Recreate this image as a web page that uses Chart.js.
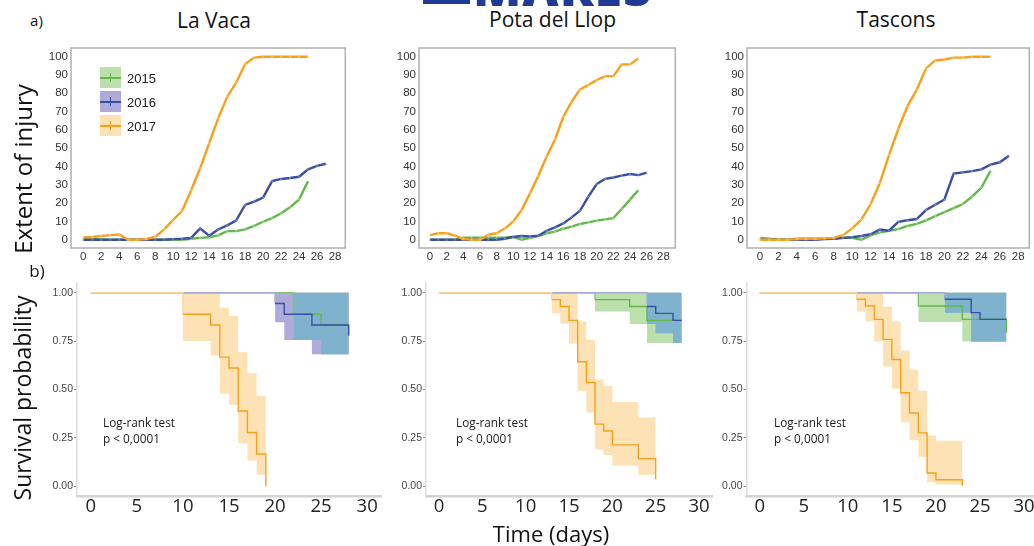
<!DOCTYPE html>
<html><head><meta charset="utf-8">
<script src="https://cdn.jsdelivr.net/npm/chart.js@4.4.1/dist/chart.umd.min.js"></script>
<style>
html,body{margin:0;padding:0;background:#fff;}
body{width:1034px;height:546px;position:relative;overflow:hidden;font-family:"Open Sans",sans-serif;}
canvas{position:absolute;}
.t{position:absolute;white-space:nowrap;line-height:1;color:#111;transform:translate(-50%,-50%);}
.l{position:absolute;white-space:nowrap;line-height:1;color:#1a1a1a;transform:translate(0,-50%);}
.lg{position:absolute;width:21px;height:21px;}
.lg .h{position:absolute;left:0;right:0;top:9.5px;height:2.4px;}
.lg .v{position:absolute;left:9.5px;top:6px;width:1.6px;height:9px;}
#logo{position:absolute;left:423px;top:0;width:240px;height:7px;overflow:hidden;}
</style></head><body>

<div id="logo"><div style="position:absolute;left:0;top:0;width:47px;height:4px;background:#1f3b93"></div><div style="position:absolute;left:50px;top:-38px;font:900 50px 'Open Sans';letter-spacing:1px;color:#1f3b93;line-height:1">MARES</div></div>

<canvas id="c1"></canvas><canvas id="c2"></canvas><canvas id="c3"></canvas>
<canvas id="c4"></canvas><canvas id="c5"></canvas><canvas id="c6"></canvas>

<div id="texts"></div>

<script>
// ---------- tick labels ----------
const injXTicks = [0,2,4,6,8,10,12,14,16,18,20,22,24,26,28];
const injXTickLabels = ['0','2','4','6','8','10','12','14','16','18','20','22','24','26','28'];
const injYTicks = [0,10,20,30,40,50,60,70,80,90,100];
const injYTickLabels = ['0','10','20','30','40','50','60','70','80','90','100'];
const survXTicks = [0,5,10,15,20,25,30];
const survXTickLabels = ['0','5','10','15','20','25','30'];
const survYTicks = [0,0.25,0.5,0.75,1];
const survYTickLabels = ['0.00','0.25','0.50','0.75','1.00'];

// ---------- a) extent of injury ----------
const days0to25 = [0,1,2,3,4,5,6,7,8,9,10,11,12,13,14,15,16,17,18,19,20,21,22,23,24,25];
const days0to26 = [0,1,2,3,4,5,6,7,8,9,10,11,12,13,14,15,16,17,18,19,20,21,22,23,24,25,26];
const days0to27 = [0,1,2,3,4,5,6,7,8,9,10,11,12,13,14,15,16,17,18,19,20,21,22,23,24,25,26,27];

const vaca2015 = [1,1,0,0,0,0,0,0,0,0,0,0,0.5,1,1.3,2.4,4.7,4.7,5.6,7.6,9.8,11.8,14.4,17.7,22,32];
const vaca2016 = [0,0,0,0,0,0,0,0,0,0,0.3,0.5,1,6.2,2.2,5.6,7.8,10.4,19,20.8,23,32,33.2,33.7,34.4,38.4,40.3,41.5];
const vaca2017 = [1.3,1.5,2,2.5,2.9,0,0,0.4,1.5,5.6,10.8,15.8,27,39,52.6,66.3,78,85.8,96,99.5,100,100,100,100,100,100];

const pota2015 = [0,0,0,0,1.1,1.1,1.1,1.1,1.1,1.2,1.6,0,1,2,3.5,4.4,6,7.1,8.6,9.5,10.4,11.1,11.8,16.8,21.9,27.1];
const pota2016 = [0,0,0,0,0,0,0,0,0,0.5,1.5,2,1.8,2.2,4.9,6.7,8.9,12.2,15.8,23.5,30.4,33.2,34,35,35.9,35.3,36.6];
const pota2017 = [2.5,3.5,3.5,2.2,0.4,0,0,2.7,3.5,6.2,10,16.2,25.3,35,45.4,54.8,67.2,75.4,82.1,84.5,87.2,89.4,89.4,95.8,95.8,99];

const tasc2015 = [1,0.5,0,0,0.5,0.5,0.5,0.5,0.5,1,1,0,2.4,4,4.9,5.8,7.5,8.6,10.6,12.9,15.1,17.3,19.5,23.5,28.4,37.7];
const tasc2016 = [0,0,0,0,0,0,0,0.3,0.5,1,1.3,2,3,5.6,4.9,9.7,10.6,11.3,16.2,19.1,22,36.1,36.8,37.5,38.4,41,42.3,45.9];
const tasc2017 = [0,0,0,0,0.3,0.5,0.5,0.8,1,2.5,6.2,11,19.5,31,46.3,60.5,73,82,93.6,98,98.5,99.5,99.5,100,100,100];

// ---------- b) survival (Kaplan-Meier) ----------
// La Vaca
const vacaS2017t = [0,10,13,14,15,16,17,18,19];
const vacaS2017  = [1,0.889,0.833,0.667,0.611,0.389,0.278,0.167,0];
const vacaB2017t = [10,13,14,15,16,17,18,19];
const vacaB2017lo = [0.751,0.675,0.478,0.421,0.222,0.132,0.06,0.06];
const vacaB2017hi = [1,1,0.923,0.88,0.692,0.584,0.467,0.467];
const vacaS2016t = [0,20,21,24,28];
const vacaS2016  = [1,0.944,0.889,0.833,0.778];
const vacaB2016t = [20,21,24,28];
const vacaB2016lo = [0.847,0.756,0.682,0.682];
const vacaB2016hi = [1,1,1,1];
const vacaS2015t = [0,22,25,28];
const vacaS2015  = [1,0.889,0.833,0.833];
const vacaB2015t = [22,25,28];
const vacaB2015lo = [0.756,0.682,0.682];
const vacaB2015hi = [1,1,1];
// Pota del Llop
const potaS2017t = [0,13,14,15,16,17,18,19,20,23,25];
const potaS2017  = [1,0.964,0.929,0.857,0.643,0.536,0.321,0.286,0.214,0.143,0.036];
const potaB2017t = [13,14,15,16,17,18,19,20,23,25];
const potaB2017lo = [0.894,0.839,0.737,0.492,0.381,0.19,0.162,0.108,0.06,0.06];
const potaB2017hi = [1,1,0.995,0.851,0.757,0.552,0.518,0.436,0.356,0.356];
const potaS2016t = [0,24,25,27,28];
const potaS2016  = [1,0.929,0.893,0.857,0.857];
const potaB2016t = [24,25,27,28];
const potaB2016lo = [0.838,0.79,0.74,0.74];
const potaB2016hi = [1,1,1,1];
const potaS2015t = [0,18,22,24,28];
const potaS2015  = [1,0.964,0.929,0.857,0.857];
const potaB2015t = [18,22,24,28];
const potaB2015lo = [0.903,0.838,0.74,0.74];
const potaB2015hi = [1,1,1,1];
// Tascons
const tascS2017t = [0,11,12,13,14,15,16,17,18,19,20,23];
const tascS2017  = [1,0.966,0.931,0.862,0.759,0.655,0.483,0.379,0.276,0.069,0.034,0];
const tascB2017t = [11,12,13,14,15,16,17,18,19,20,23];
const tascB2017lo = [0.902,0.851,0.748,0.619,0.504,0.331,0.238,0.153,0.022,0.009,0.009];
const tascB2017hi = [1,1,1,0.928,0.851,0.702,0.602,0.494,0.262,0.235,0.235];
const tascS2016t = [0,21,24,25,28];
const tascS2016  = [1,0.966,0.897,0.862,0.862];
const tascB2016t = [21,24,28];
const tascB2016lo = [0.897,0.748,0.748];
const tascB2016hi = [1,1,1];
const tascS2015t = [0,18,23,28];
const tascS2015  = [1,0.931,0.862,0.793];
const tascB2015t = [18,23,28];
const tascB2015lo = [0.848,0.748,0.748];
const tascB2015hi = [1,1,1];

// ---------- styles ----------
const C = {
  g:'#62b84a', b:'#3a4ea3', o:'#f7a11b',
  gMark:'rgba(210,240,200,0.6)', bMark:'rgba(180,190,240,0.6)', oMark:'rgba(254,230,185,0.6)',
  gTop:'#7cc66a', bTop:'#a5aad9', oTop:'#fbd59e',
  gBand:'#bbe0ac', bBand:'#aeaad9', oBand:'#fde2b5', olBand:'#7fb3cd'
};

const framePlugin = {id:'frame', afterDraw(chart, args, opts){
  if(!opts || !opts.on) return;
  const {ctx, chartArea:a} = chart;
  ctx.save(); ctx.strokeStyle = opts.color; ctx.lineWidth = opts.width;
  ctx.strokeRect(a.left, a.top, a.right-a.left, a.bottom-a.top); ctx.restore();
}};

function setRect(cv, r){
  cv.width = r.w; cv.height = r.h;
  cv.style.left = r.x+'px'; cv.style.top = r.y+'px';
  cv.style.width = r.w+'px'; cv.style.height = r.h+'px';
}

function baseOptions(rect, area, xr, yr, xt, xtl, yt, ytl, xFont, yFont, bottomStyle){
  return {
    responsive:false, animation:false, events:[],
    layout:{padding:{left:0, top:area.t-rect.y, right:rect.x+rect.w-area.r, bottom:0}},
    plugins:{legend:{display:false}, tooltip:{enabled:false}, frame:{on:!bottomStyle, color:'#b5b5b5', width:1.6}},
    scales:{
      x:{type:'linear', min:xr[0], max:xr[1],
        afterBuildTicks:s=>{s.ticks = xt.map(v=>({value:v}));},
        ticks:{font:xFont.font, color:xFont.color, padding:xFont.padding, maxRotation:0, autoSkip:false, callback:(v,i)=>xtl[i]},
        grid:{display:false, drawTicks:false},
        border: bottomStyle ? {display:true, color:'#d2d2d2', width:2.5} : {display:false},
        afterFit:s=>{s.height = rect.y+rect.h-area.b; s.paddingLeft=0; s.paddingRight=0;}
      },
      y:{type:'linear', min:yr[0], max:yr[1],
        afterBuildTicks:s=>{s.ticks = yt.map(v=>({value:v}));},
        ticks:{font:yFont.font, color:yFont.color, padding:yFont.padding, autoSkip:false, callback:(v,i)=>ytl[i]},
        grid: bottomStyle ? {display:true, drawOnChartArea:false, drawTicks:true, tickLength:3, color:'#888', lineWidth:1} : {display:false, drawTicks:false},
        border: bottomStyle ? {display:true, color:'#dcdcdc', width:1.5} : {display:false},
        afterFit:s=>{s.width = area.l-rect.x; s.paddingTop=0; s.paddingBottom=0;}
      }
    }
  };
}

function injuryChart(id, rect, area, xr, series){
  const cv = document.getElementById(id); setRect(cv, rect);
  const datasets = series.map(s=>({
    data: s.days.map((d,i)=>({x:d, y:s.vals[i]})),
    borderColor:s.color, borderWidth:2.4, tension:0, fill:false,
    pointStyle:'crossRot', pointRadius:1.8, pointBorderColor:s.mark, pointBorderWidth:0.7,
    pointBackgroundColor:'rgba(0,0,0,0)', order:s.order
  }));
  const opts = baseOptions(rect, area, xr, [-4.54,104.75], injXTicks, injXTickLabels, injYTicks, injYTickLabels,
    {font:{family:'Liberation Sans', size:11.5}, color:'#333', padding:2},
    {font:{family:'Liberation Sans', size:11.5}, color:'#333', padding:3}, false);
  new Chart(cv, {type:'line', data:{datasets}, options:opts, plugins:[framePlugin]});
}

function stepIndex(b, x){ let k = 0; for(let i=0;i<b.t.length;i++){ if(b.t[i] <= x) k = i; } return k; }
function overlapBand(a, b){
  const s = Math.max(a.t[0], b.t[0]), e = Math.min(a.t[a.t.length-1], b.t[b.t.length-1]);
  if(s >= e) return null;
  const ts = [...new Set(a.t.concat(b.t).filter(t=>t>=s && t<=e))].sort((p,q)=>p-q);
  const lo = [], hi = [];
  ts.forEach(t=>{ const i = stepIndex(a,t), j = stepIndex(b,t);
    const l = Math.max(a.lo[i], b.lo[j]); const h = Math.min(a.hi[i], b.hi[j]);
    lo.push(l); hi.push(Math.max(l,h)); });
  return {t:ts, lo, hi};
}
function bandSets(b, color, order){
  const lower = {data:b.t.map((x,i)=>({x, y:b.lo[i]})), stepped:true, borderWidth:0, borderColor:'rgba(0,0,0,0)', pointRadius:0, fill:false, order};
  const upper = {data:b.t.map((x,i)=>({x, y:b.hi[i]})), stepped:true, borderWidth:0, borderColor:'rgba(0,0,0,0)', pointRadius:0, fill:'-1', backgroundColor:color, order};
  return [lower, upper];
}
function survChart(id, rect, area, xr, s){
  const cv = document.getElementById(id); setRect(cv, rect);
  let datasets = [];
  datasets = datasets.concat(bandSets(s.b2015, C.gBand, 14));
  datasets = datasets.concat(bandSets(s.b2016, C.bBand, 13));
  const ov = overlapBand(s.b2015, s.b2016);
  if(ov) datasets = datasets.concat(bandSets(ov, C.olBand, 12));
  datasets = datasets.concat(bandSets(s.b2017, C.oBand, 11));
  const line = (t, v, color, top, order)=>({
    data:t.map((x,i)=>({x, y:v[i]})), stepped:true, borderColor:color, borderWidth:1.4, pointRadius:0, fill:false, order,
    segment:{borderColor:c=> (c.p0.parsed.y >= 0.9999 ? top : undefined)}
  });
  datasets.push(line(s.t2015, s.v2015, C.g, C.gTop, 3));
  datasets.push(line(s.t2016, s.v2016, C.b, C.bTop, 2));
  datasets.push(line(s.t2017, s.v2017, C.o, C.oTop, 1));
  const opts = baseOptions(rect, area, xr, [-0.05,1.05], survXTicks, survXTickLabels, survYTicks, survYTickLabels,
    {font:{family:'Open Sans', size:18.5}, color:'#222', padding:0},
    {font:{family:'Liberation Sans', size:10.5}, color:'#444', padding:1}, true);
  new Chart(cv, {type:'line', data:{datasets}, options:opts, plugins:[framePlugin]});
}

// ---------- build charts ----------
injuryChart('c1', {x:38,y:40,w:312,h:232}, {l:71,t:48,r:347,b:248}, [-1.36,29.14], [
  {days:days0to25, vals:vaca2015, color:C.g, mark:C.gMark, order:3},
  {days:days0to27, vals:vaca2016, color:C.b, mark:C.bMark, order:2},
  {days:days0to25, vals:vaca2017, color:C.o, mark:C.oMark, order:1}]);
injuryChart('c2', {x:386,y:40,w:294,h:232}, {l:419,t:48,r:677,b:248}, [-1.31,29.43], [
  {days:days0to25, vals:pota2015, color:C.g, mark:C.gMark, order:3},
  {days:days0to26, vals:pota2016, color:C.b, mark:C.bMark, order:2},
  {days:days0to25, vals:pota2017, color:C.o, mark:C.oMark, order:1}]);
injuryChart('c3', {x:714,y:40,w:320,h:232}, {l:747,t:48,r:1032,b:248}, [-1.4,29.2], [
  {days:days0to25, vals:tasc2015, color:C.g, mark:C.gMark, order:3},
  {days:days0to27, vals:tasc2016, color:C.b, mark:C.bMark, order:2},
  {days:days0to25, vals:tasc2017, color:C.o, mark:C.oMark, order:1}]);

survChart('c4', {x:38,y:275,w:347,h:271}, {l:77,t:283,r:381,b:496}, [-1.5,31.5], {
  t2015:vacaS2015t, v2015:vacaS2015, t2016:vacaS2016t, v2016:vacaS2016, t2017:vacaS2017t, v2017:vacaS2017,
  b2015:{t:vacaB2015t, lo:vacaB2015lo, hi:vacaB2015hi}, b2016:{t:vacaB2016t, lo:vacaB2016lo, hi:vacaB2016hi}, b2017:{t:vacaB2017t, lo:vacaB2017lo, hi:vacaB2017hi}});
survChart('c5', {x:388,y:275,w:328,h:271}, {l:426,t:283,r:712,b:496}, [-1.5,31.5], {
  t2015:potaS2015t, v2015:potaS2015, t2016:potaS2016t, v2016:potaS2016, t2017:potaS2017t, v2017:potaS2017,
  b2015:{t:potaB2015t, lo:potaB2015lo, hi:potaB2015hi}, b2016:{t:potaB2016t, lo:potaB2016lo, hi:potaB2016hi}, b2017:{t:potaB2017t, lo:potaB2017lo, hi:potaB2017hi}});
survChart('c6', {x:708,y:275,w:326,h:271}, {l:746.5,t:283,r:1034,b:496}, [-1.5,31.13], {
  t2015:tascS2015t, v2015:tascS2015, t2016:tascS2016t, v2016:tascS2016, t2017:tascS2017t, v2017:tascS2017,
  b2015:{t:tascB2015t, lo:tascB2015lo, hi:tascB2015hi}, b2016:{t:tascB2016t, lo:tascB2016lo, hi:tascB2016hi}, b2017:{t:tascB2017t, lo:tascB2017lo, hi:tascB2017hi}});

// ---------- texts ----------
const T = document.getElementById('texts');
function txt(s, x, y, size, cls, extra){
  const d = document.createElement('div'); d.className = cls || 't'; d.textContent = s;
  d.style.left = x+'px'; d.style.top = y+'px'; d.style.fontSize = size+'px';
  if(extra) d.style.transform = extra;
  T.appendChild(d);
}
txt('a)', 36.5, 20, 15);
txt('La Vaca', 214, 19.5, 21);
txt('Pota del Llop', 552.5, 18.5, 21);
txt('Tascons', 896, 18.5, 21);
txt('Extent of injury', 22.5, 169, 24, 't', 'translate(-50%,-50%) rotate(-90deg)');
txt('b)', 37, 270, 17);
txt('Survival probability', 22, 398, 23, 't', 'translate(-50%,-50%) rotate(-90deg)');
txt('Time (days)', 551, 533, 22);
[[103],[456],[774]].forEach(([x])=>{ txt('Log-rank test', x, 423, 11.8, 'l'); txt('p < 0,0001', x, 438.5, 11.8, 'l'); });

// legend (panel a, La Vaca)
const legendYears = ['2015','2016','2017'];
const legendColors = [[C.gBand,C.g],[C.bBand,C.b],[C.oBand,C.o]];
const legendTops = [67,91,115];
legendYears.forEach((y,i)=>{
  const box = document.createElement('div'); box.className='lg';
  box.style.left='100px'; box.style.top=legendTops[i]+'px'; box.style.background=legendColors[i][0];
  box.innerHTML = '<div class="h" style="background:'+legendColors[i][1]+'"></div><div class="v" style="background:'+legendColors[i][1]+'"></div>';
  T.appendChild(box);
  const d = document.createElement('div'); d.className='l'; d.textContent=y;
  d.style.left='127px'; d.style.top=(legendTops[i]+10.5)+'px'; d.style.fontSize='13px'; d.style.fontFamily='"Liberation Sans"'; d.style.color='#222';
  T.appendChild(d);
});
</script>
</body></html>
